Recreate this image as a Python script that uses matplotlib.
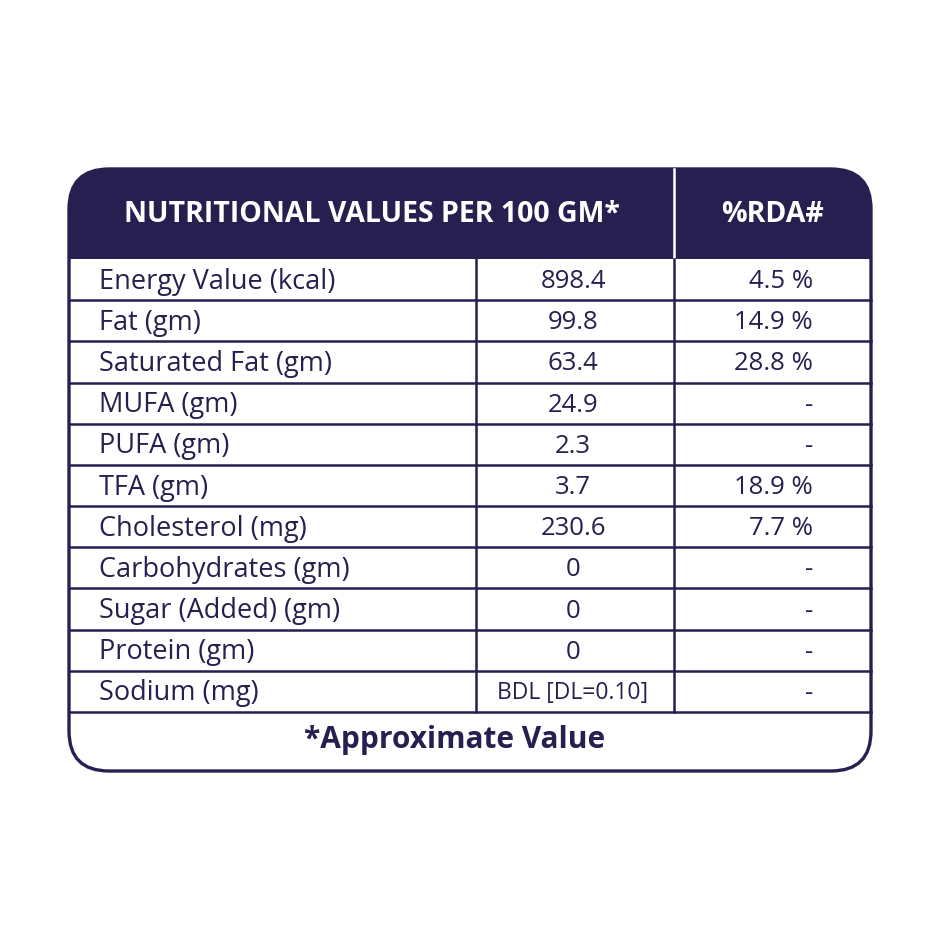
import matplotlib
matplotlib.use("Agg")
import matplotlib.pyplot as plt
from matplotlib.patches import FancyBboxPatch, Rectangle

header = ["NUTRITIONAL VALUES PER 100 GM*", "%RDA#"]
nutrients = ["Energy Value (kcal)", "Fat (gm)", "Saturated Fat (gm)", "MUFA (gm)",
             "PUFA (gm)", "TFA (gm)", "Cholesterol (mg)", "Carbohydrates (gm)",
             "Sugar (Added) (gm)", "Protein (gm)", "Sodium (mg)"]
values = ["898.4", "99.8", "63.4", "24.9", "2.3", "3.7", "230.6", "0", "0", "0", "BDL [DL=0.10]"]
rda = ["4.5 %", "14.9 %", "28.8 %", "-", "-", "18.9 %", "7.7 %", "-", "-", "-", "-"]
footer = "*Approximate Value"

NAVY = "#261f4f"
plt.rcParams['font.family'] = ['Open Sans', 'DejaVu Sans']
fig = plt.figure(figsize=(9.4, 9.4), dpi=100)
ax = fig.add_axes([0, 0, 1, 1])
ax.set_xlim(0, 940); ax.set_ylim(940, 0); ax.axis('off')

L, R, T, B = 69, 871, 169, 771
HB = 259; FT = 712
C1, C2 = 476, 674
rad = 40
ax.add_patch(FancyBboxPatch((L, T), R - L, 150, boxstyle=f"round,pad=0,rounding_size={rad}",
                            fc=NAVY, ec="none"))
ax.add_patch(Rectangle((L, HB), R - L, 200, fc="white", ec="none"))
ax.add_patch(FancyBboxPatch((L, HB), R - L, B - HB, boxstyle=f"round,pad=0,rounding_size={rad}",
                            fc="white", ec="none"))
ax.add_patch(Rectangle((L, HB), R - L, 100, fc="white", ec="none"))
ax.add_patch(FancyBboxPatch((L, T), R - L, B - T, boxstyle=f"round,pad=0,rounding_size={rad}",
                            fc="none", ec=NAVY, lw=2.4))
ax.plot([C2, C2], [T, HB], color="white", lw=1.8)
n = len(nutrients)
rh = (FT - HB) / n
for i in range(1, n + 1):
    y = HB + i * rh
    ax.plot([L, R], [y, y], color=NAVY, lw=1.8)
ax.plot([C1, C1], [HB, FT], color=NAVY, lw=1.8)
ax.plot([C2, C2], [HB, FT], color=NAVY, lw=1.8)

ax.text(372, 215, header[0], color="white", fontsize=20.5, fontweight="bold", ha="center", va="center")
ax.text(772, 215, header[1], color="white", fontsize=20.5, fontweight="bold", ha="center", va="center")
for i in range(n):
    yc = HB + (i + 0.5) * rh + 2
    ax.text(99, yc, nutrients[i], color=NAVY, fontsize=19.5, ha="left", va="center")
    fs = 16.5 if len(values[i]) > 8 else 18.5
    ax.text(573, yc, values[i], color=NAVY, fontsize=fs, ha="center", va="center")
    ax.text(813, yc, rda[i], color=NAVY, fontsize=18.5, ha="right", va="center")
ax.text(455, 740, footer, color=NAVY, fontsize=21.5, fontweight="bold", ha="center", va="center")
fig.savefig("out.png", dpi=100, facecolor="white")
